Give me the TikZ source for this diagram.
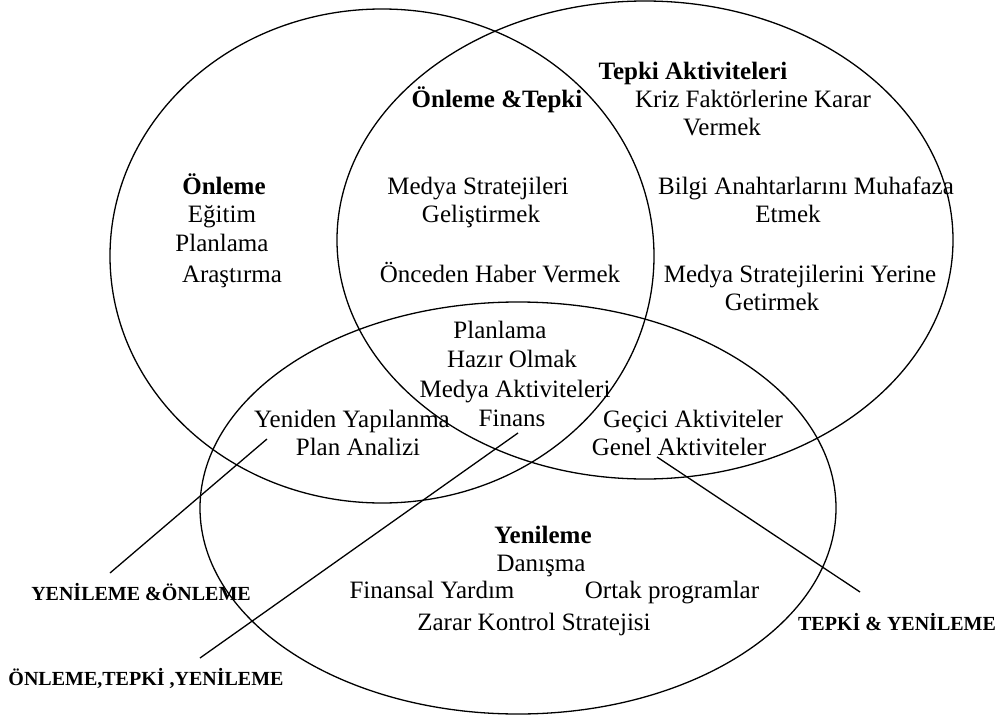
\documentclass[tikz,border=0pt]{standalone}
\usepackage{fontspec}
\setmainfont{Liberation Serif}
\begin{document}
\begin{tikzpicture}[x=1pt,y=-1pt,
  txt/.style={anchor=base,inner sep=0pt,font=\fontsize{25}{29}\selectfont},
  hd/.style={anchor=base,inner sep=0pt,font=\fontsize{25}{29}\selectfont\bfseries},
  lbl/.style={anchor=base,inner sep=0pt,font=\fontsize{20}{24}\selectfont\bfseries},
  ring/.style={line width=1.3pt},
  conn/.style={line width=1.3pt}]
\useasboundingbox (0,0) rectangle (1002,720);
\fill[white] (0,0) rectangle (1002,720);
% circles
\draw[ring] (382,256) ellipse [x radius=272, y radius=247];
\draw[ring] (645,240) ellipse [x radius=308, y radius=239];
\draw[ring] (518,508) ellipse [x radius=318, y radius=206];
% Önleme
\node[hd]  (onl)  at (224,194) {Önleme};
\node[txt] (egt)  at (222,222) {Eğitim};
\node[txt] (pla)  at (222,251) {Planlama};
\node[txt] (ara)  at (232,282) {Araştırma};
% Önleme & Tepki
\node[hd]  (ont)  at (497,107) {Önleme \&Tepki};
\node[txt] (mds)  at (478,194) {Medya Stratejileri};
\node[txt] (gel)  at (481,222) {Geliştirmek};
\node[txt] (onc)  at (500,282) {Önceden Haber Vermek};
% Tepki
\node[hd]  (tep)  at (693,79)  {Tepki Aktiviteleri};
\node[txt] (kri)  at (753,107) {Kriz Faktörlerine Karar};
\node[txt] (ver)  at (722,135) {Vermek};
\node[txt] (bil)  at (806,194) {Bilgi Anahtarlarını Muhafaza};
\node[txt] (etm)  at (788,222) {Etmek};
\node[txt] (mdy)  at (800,282) {Medya Stratejilerini Yerine};
\node[txt] (get)  at (772,310) {Getirmek};
% centre
\node[txt] (pl2)  at (500,338) {Planlama};
\node[txt] (haz)  at (512,367) {Hazır Olmak};
\node[txt] (mak)  at (515,397) {Medya Aktiviteleri};
\node[txt] (fin)  at (512,426) {Finans};
% Yenileme & Önleme
\node[txt] (yen)  at (352,427) {Yeniden Yapılanma};
\node[txt] (pan)  at (358,455) {Plan Analizi};
% Tepki & Yenileme
\node[txt] (gec)  at (693,427) {Geçici Aktiviteler};
\node[txt] (gen)  at (679,455) {Genel Aktiviteler};
% Yenileme
\node[hd]  (yhd)  at (543,543) {Yenileme};
\node[txt] (dan)  at (541,571) {Danışma};
\node[txt] (fy)   at (432,598) {Finansal Yardım};
\node[txt] (ort)  at (672,598) {Ortak programlar};
\node[txt] (zar)  at (534,630) {Zarar Kontrol Stratejisi};
% outside labels
\node[lbl] (l1) at (141,600) {YENİLEME \&ÖNLEME};
\node[lbl] (l2) at (146,685) {ÖNLEME,TEPKİ ,YENİLEME};
\node[lbl] (l3) at (897,630) {TEPKİ \& YENİLEME};
% connector ends
\coordinate (a1) at (267,439);
\coordinate (b1) at (110,573);
\coordinate (a2) at (518,433);
\coordinate (b2) at (200,658);
\coordinate (a3) at (657,457);
\coordinate (b3) at (860,592);
\draw[conn] (b1) -- (a1);
\draw[conn] (b2) -- (a2);
\draw[conn] (a3) -- (b3);
\end{tikzpicture}
\end{document}
